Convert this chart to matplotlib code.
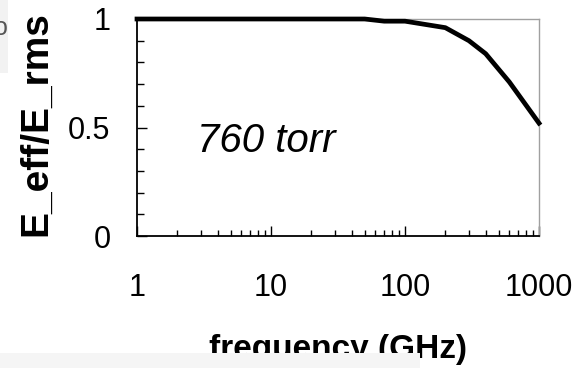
import numpy as np
import matplotlib
matplotlib.use('Agg')
import matplotlib.pyplot as plt
from matplotlib.ticker import LogLocator, MultipleLocator, FixedLocator, NullFormatter
from matplotlib.patches import Rectangle

plt.rcParams['font.family'] = ['Liberation Sans', 'DejaVu Sans']

# values
freq = [1, 2, 5, 10, 20, 50, 70, 100, 200, 300, 400, 600, 1000]
ratio = [1.0, 1.0, 1.0, 1.0, 1.0, 1.0, 0.99, 0.99, 0.96, 0.90, 0.84, 0.71, 0.52]
xticks = [1, 10, 100, 1000]
xticklabels = ['1', '10', '100', '1000']
yticks = [0, 0.5, 1]
yticklabels = ['0', '0.5', '1']

fig = plt.figure(figsize=(5.77, 3.68), dpi=100)
ax = fig.add_axes([137/577, 1-236/368, (539-137)/577, (236-19)/368])

ax.plot(freq, ratio, color='black', lw=3.4, solid_joinstyle='round', clip_on=False, zorder=3)

ax.set_xscale('log')
ax.set_xlim(1, 1000)
ax.set_ylim(0, 1)

ax.xaxis.set_major_locator(FixedLocator(xticks))
ax.set_xticklabels(xticklabels)
ax.xaxis.set_minor_locator(LogLocator(base=10, subs=np.arange(2, 10)))
ax.xaxis.set_minor_formatter(NullFormatter())
ax.set_yticks(yticks)
ax.set_yticklabels(yticklabels)
ax.yaxis.set_minor_locator(MultipleLocator(0.1))

ax.tick_params(which='both', direction='in', top=False, right=False, labelsize=22, color='black')
ax.tick_params(axis='x', which='major', length=7, width=1, pad=27)
ax.tick_params(axis='x', which='minor', length=4.5, width=1)
ax.tick_params(axis='y', which='major', length=7, width=1, pad=19)
ax.tick_params(axis='y', which='minor', length=5, width=1)

for s in ['left', 'bottom']:
    ax.spines[s].set_color('black')
    ax.spines[s].set_linewidth(1.3)
for s in ['top', 'right']:
    ax.spines[s].set_color('#a0a0a0')
    ax.spines[s].set_linewidth(1.0)

ax.set_xlabel('frequency (GHz)', fontsize=24, fontweight='bold')
ax.xaxis.set_label_coords(0.5, -(334-236)/217)
ax.set_ylabel('E_eff/E_rms', fontsize=28, fontweight='bold')
ax.yaxis.set_label_coords(-(137-54)/402, 0.52)

ax.text(2.8, 0.387, '760 torr', fontsize=29, style='italic', va='baseline', ha='left')

# scraps of neighbouring panels at the edges of the crop
fig.patches.append(Rectangle((0, 1-73/368), 8/577, 73/368, transform=fig.transFigure,
                             facecolor='#f2f2f2', edgecolor='none', zorder=0))
fig.text(-6/577, 1-28/368, 'o', fontsize=18, color='#555555', va='center', ha='left')
fig.patches.append(Rectangle((0, 0), 420/577, 15/368, transform=fig.transFigure,
                             facecolor='#f5f5f5', edgecolor='none', zorder=10))

fig.savefig('out.png', dpi=100)
